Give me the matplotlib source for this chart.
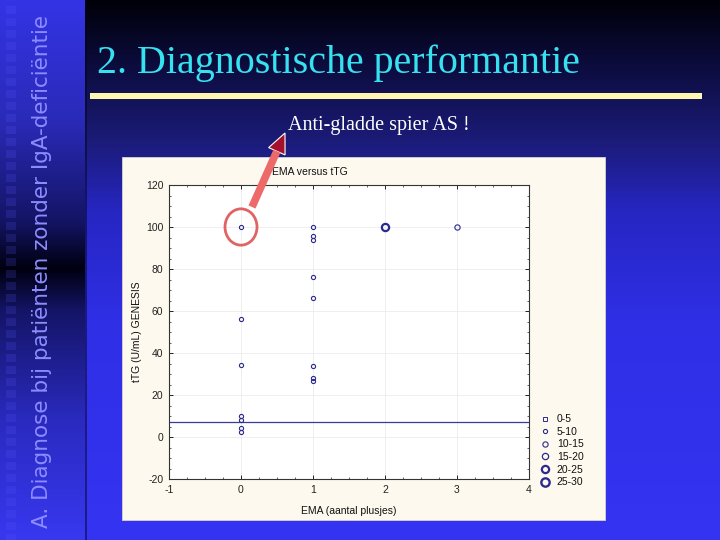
import numpy as np
import matplotlib
matplotlib.use('Agg')
import matplotlib.pyplot as plt
from matplotlib.patches import Rectangle, Ellipse, Polygon
from matplotlib.colors import to_rgb

plt.rcParams['axes.unicode_minus'] = False

# values
ema = [0, 0, 0, 0, 0, 0, 0, 1, 1, 1, 1, 1, 1, 1, 1, 2, 3]
ttg = [100, 56, 34.5, 10, 8, 4.5, 2.5, 100, 95.5, 94, 76, 66, 34, 28, 26.5, 100, 100]
size_class = ['5-10'] * 15 + ['20-25', '10-15']
size_labels = ['0-5', '5-10', '10-15', '15-20', '20-25', '25-30']
cutoff = 7

# marker look per size class (points)
msize = dict(zip(size_labels, [2.2, 3.0, 3.8, 4.5, 5.2, 6.0]))
mwidth = dict(zip(size_labels, [0.7, 0.8, 0.8, 0.9, 1.6, 1.7]))
navy = '#2b2b8f'


def gradient(stops, n=540):
    # vertical colour ramp, stops = [(pixel_y, colour), ...]
    ys = np.arange(n)
    pos = [s[0] for s in stops]
    cols = np.array([to_rgb(s[1]) for s in stops])
    img = np.stack([np.interp(ys, pos, cols[:, k]) for k in range(3)], axis=-1)
    return img[:, None, :]


fig = plt.figure(figsize=(7.2, 5.4), dpi=100)

# slide background, pixel coordinates
bg = fig.add_axes([0, 0, 1, 1])
bg.set_xlim(0, 720)
bg.set_ylim(540, 0)
bg.axis('off')
main = gradient([(0, '#000008'), (60, '#0b0b3a'), (140, '#1b1b78'),
                 (210, '#2626c2'), (320, '#2f2fe6'), (540, '#3434f2')])
bg.imshow(main, extent=(85, 720, 540, 0), aspect='auto')
strip = gradient([(0, '#3434e6'), (120, '#2a2ab8'), (220, '#141466'),
                  (268, '#000010'), (310, '#141466'), (420, '#2a2ac0'), (540, '#3838f0')])
bg.imshow(strip, extent=(0, 85, 540, 0), aspect='auto')
bg.plot([86, 86], [0, 540], color='#05051a', lw=1.2, alpha=0.6)
for yy in range(6, 536, 12):
    bg.add_patch(Rectangle((6, yy), 10, 8, color='#5a5aff', alpha=0.18, lw=0))
bg.text(42, 272, 'A. Diagnose bij patiënten zonder IgA-deficiëntie', rotation=90,
        ha='center', va='center', color='#8c8cff', fontsize=15.5, family='DejaVu Sans')

bg.text(97, 73, '2. Diagnostische performantie', color='#36e2f0', fontsize=28.8,
        family='Liberation Serif', va='baseline', ha='left')
bg.add_patch(Rectangle((90, 93), 612, 6, color='#fff6b0', lw=0))
bg.text(288, 130, 'Anti-gladde spier AS !', color='white', fontsize=14.5,
        family='Liberation Serif', va='baseline', ha='left')

# chart panel
bg.add_patch(Rectangle((122, 157), 483, 363, facecolor='#fdf9ee', edgecolor='#d8d4c8', lw=0.6))
bg.text(310, 172, 'EMA versus tTG', ha='center', va='center', fontsize=7.5,
        family='Liberation Sans', color='#111111')

ax = fig.add_axes([169 / 720, 1 - 479 / 540, 360 / 720, 294 / 540])
ax.set_facecolor('white')
ax.set_xlim(-1, 4)
ax.set_ylim(-20, 120)
ax.set_xticks(range(-1, 5))
ax.set_yticks(range(-20, 121, 20))
ax.set_xticks(np.arange(-1, 4.01, 0.25), minor=True)
ax.set_yticks(range(-20, 121, 5), minor=True)
ax.tick_params(which='both', direction='in', top=True, right=True, colors='#222222',
               labelsize=7.5, pad=4)
ax.tick_params(which='major', length=3, width=0.7)
ax.tick_params(which='minor', length=1.5, width=0.5)
for lab in ax.get_xticklabels() + ax.get_yticklabels():
    lab.set_family('Liberation Sans')
for sp in ax.spines.values():
    sp.set_color('#333333')
    sp.set_linewidth(0.8)
ax.grid(True, which='major', color='#ececec', lw=0.6)
ax.set_axisbelow(True)
ax.set_xlabel('EMA (aantal plusjes)', fontsize=7.5, family='Liberation Sans',
              color='#111111', labelpad=8)
ax.set_ylabel('tTG (U/mL) GENESIS', fontsize=7.5, family='Liberation Sans',
              color='#111111', labelpad=3)

ax.axhline(cutoff, color='#3a3a9c', lw=0.9, zorder=2)
for x, y, c in zip(ema, ttg, size_class):
    ax.plot(x, y, 'o', ms=msize[c], mfc='none', mec=navy, mew=mwidth[c], zorder=3)

handles = [ax.plot([], [], 's' if lab == '0-5' else 'o', ms=msize[lab], mfc='none',
                   mec=navy, mew=mwidth[lab])[0] for lab in size_labels]
leg = fig.legend(handles, size_labels, loc='upper left', bbox_to_anchor=(536 / 720, 1 - 410 / 540),
                 frameon=False, fontsize=7.5, handlelength=1.0, handletextpad=0.6,
                 labelspacing=0.25, borderaxespad=0)
for t in leg.get_texts():
    t.set_family('Liberation Sans')
    t.set_color('#111111')

# red highlight circle around the first point and arrow to the note
ax.add_patch(Ellipse((ema[0], ttg[0]), 32 / 72, 36 / 2.083, fill=False,
                     edgecolor='#e06464', lw=2.0, zorder=5))

ov = fig.add_axes([0, 0, 1, 1], zorder=10)
ov.set_xlim(0, 720)
ov.set_ylim(540, 0)
ov.axis('off')
base = np.array([252.0, 207.0])
tip = np.array([285.0, 133.0])
u = (tip - base) / np.linalg.norm(tip - base)
nrm = np.array([-u[1], u[0]])
hb = tip - u * 20
ov.plot([base[0], hb[0]], [base[1], hb[1]], color='#ee6a6a', lw=5.5, solid_capstyle='butt')
ov.add_patch(Polygon([tip, hb + nrm * 9, hb + nrm * 3.5, hb - nrm * 3.5, hb - nrm * 9],
                     closed=True, facecolor='#a5102c', edgecolor='white', lw=0.8))

fig.savefig('out.png', dpi=100)
